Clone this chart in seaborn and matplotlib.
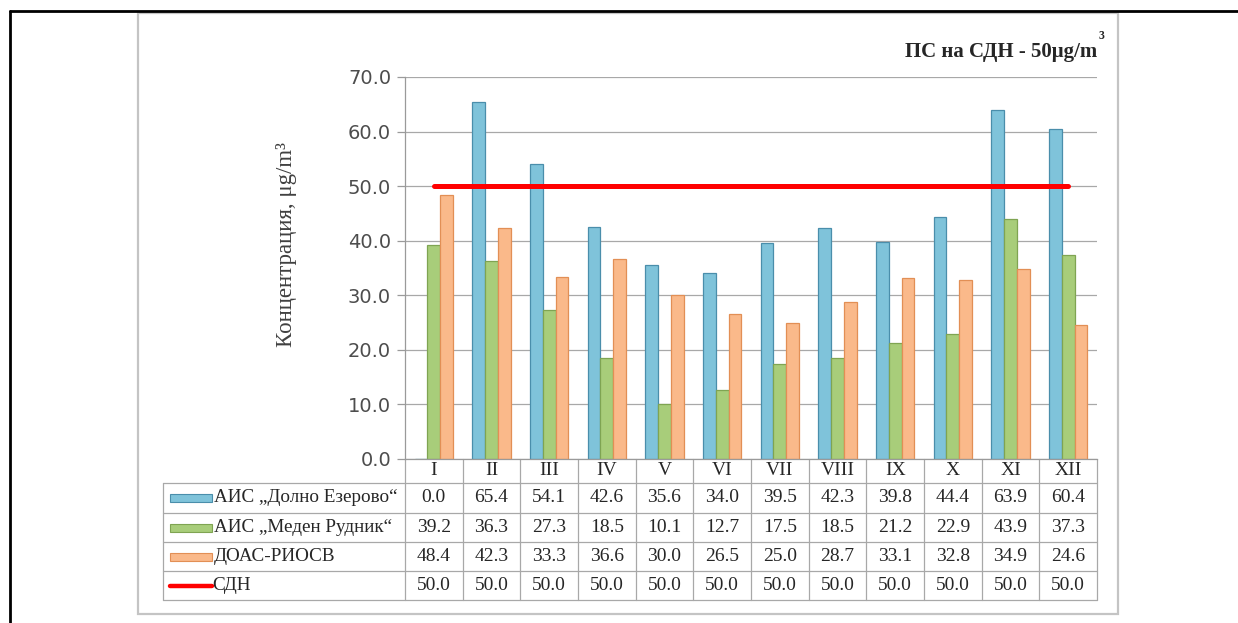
import numpy as np
import pandas as pd
import matplotlib
matplotlib.use("Agg")
import matplotlib.pyplot as plt
import matplotlib.transforms as mtransforms
from matplotlib.patches import Rectangle
import seaborn as sns

# ---- data ----
months = ['I', 'II', 'III', 'IV', 'V', 'VI', 'VII', 'VIII', 'IX', 'X', 'XI', 'XII']
dolno = [0.0, 65.4, 54.1, 42.6, 35.6, 34.0, 39.5, 42.3, 39.8, 44.4, 63.9, 60.4]
meden = [39.2, 36.3, 27.3, 18.5, 10.1, 12.7, 17.5, 18.5, 21.2, 22.9, 43.9, 37.3]
doas = [48.4, 42.3, 33.3, 36.6, 30.0, 26.5, 25.0, 28.7, 33.1, 32.8, 34.9, 24.6]
sdn = [50.0, 50.0, 50.0, 50.0, 50.0, 50.0, 50.0, 50.0, 50.0, 50.0, 50.0, 50.0]
series_names = ['АИС „Долно Езерово“', 'АИС „Меден Рудник“', 'ДОАС-РИОСВ', 'СДН']
yticks = [0, 10, 20, 30, 40, 50, 60, 70]

face_colors = ['#7fc3da', '#a8cd7a', '#fab98a']
edge_colors = ['#4a8eab', '#7fa452', '#e28f55']
red = '#ff0000'

sns.set_style("white")
SERIF = ['Liberation Serif', 'DejaVu Serif']
plt.rcParams['font.family'] = SERIF

W, H = 1238, 623
fig = plt.figure(figsize=(W / 100, H / 100), dpi=100)
pix = mtransforms.Affine2D().scale(1 / W, -1 / H).translate(0, 1) + fig.transFigure

# axes in pixel layout
L, R, T, B = 405, 1097, 77, 459
ax = fig.add_axes([L / W, 1 - B / H, (R - L) / W, (B - T) / H])

df = pd.DataFrame({
    'month': months * 3,
    'value': dolno + meden + doas,
    'series': [series_names[0]] * 12 + [series_names[1]] * 12 + [series_names[2]] * 12,
})
sns.barplot(data=df, x='month', y='value', hue='series', order=months,
            hue_order=series_names[:3], palette=face_colors, width=0.66,
            gap=0, saturation=1, legend=False, ax=ax, zorder=2)
for cont, ec in zip(ax.containers, edge_colors):
    for p in cont:
        p.set_edgecolor(ec)
        p.set_linewidth(0.9)

ax.plot(np.arange(len(months)), sdn, color=red, lw=3.6, zorder=5,
        solid_capstyle='round')

ax.set_xlim(-0.5, len(months) - 0.5)
ax.set_ylim(0, 70)
ax.set_yticks(yticks)
ax.set_yticklabels([f"{v:.1f}" for v in yticks], family='DejaVu Sans',
                   fontsize=14, color='#4d4d4d')
ax.tick_params(axis='y', length=6, color='#9a9a9a', width=0.9, pad=4, left=True)
ax.set_xticks(np.arange(len(months)))
ax.set_xticklabels(months, family=SERIF, fontsize=14, color='#262626')
ax.tick_params(axis='x', length=0, pad=2)
ax.grid(axis='y', color='#a8a8a8', lw=0.9, zorder=0)
ax.set_axisbelow(True)
for s in ['top', 'right']:
    ax.spines[s].set_visible(False)
for s in ['left', 'bottom']:
    ax.spines[s].set_color('#9a9a9a')
    ax.spines[s].set_linewidth(0.9)
ax.set_xlabel('')
ax.set_ylabel('Концентрация, μg/m³', fontsize=16.5, color='#404040', family=SERIF)
ax.yaxis.set_label_coords((297 - L) / (R - L), (B - 245) / (B - T))

# ---- data table below axes ----
gcol = '#a8a8a8'
bt = mtransforms.blended_transform_factory(ax.transData, pix)
row_y = [483, 513, 542, 571, 600]
tbl_left = 163
n = len(months)
for k in range(n + 1):
    ax.plot([k - 0.5, k - 0.5], [B, row_y[-1]], transform=bt, color=gcol,
            lw=0.9, clip_on=False)
for yy in row_y:
    fig.add_artist(plt.Line2D([tbl_left, R], [yy, yy], transform=pix,
                              color=gcol, lw=0.9))
fig.add_artist(plt.Line2D([tbl_left, tbl_left], [row_y[0], row_y[-1]],
                          transform=pix, color=gcol, lw=0.9))

rows = [dolno, meden, doas, sdn]
for r, vals in enumerate(rows):
    yc = (row_y[r] + row_y[r + 1]) / 2
    for k, v in enumerate(vals):
        ax.text(k, yc, f"{v:.1f}", transform=bt, ha='center', va='center',
                fontsize=14, color='#262626', family=SERIF)
    if r < 3:
        fig.add_artist(Rectangle((170, yc - 4), 42, 8, transform=pix,
                                 facecolor=face_colors[r],
                                 edgecolor=edge_colors[r], lw=0.8))
        tx = 214
    else:
        fig.add_artist(plt.Line2D([170, 212], [yc, yc], transform=pix,
                                  color=red, lw=3.2, solid_capstyle='round'))
        tx = 212
    fig.text(tx / W, 1 - yc / H, series_names[r], ha='left', va='center',
             fontsize=13.8, color='#262626', family=SERIF)

# ---- title ----
fig.text(R / W, 1 - 57 / H, 'ПС на СДН - 50μg/m', ha='right', va='baseline',
         fontsize=15, fontweight='bold', color='#262626', family=SERIF)
fig.text(1099 / W, 1 - 39 / H, '3', ha='left', va='baseline',
         fontsize=8.5, fontweight='bold', color='#262626', family=SERIF)

# ---- frames ----
fig.add_artist(Rectangle((138, 13), 1118 - 138, 614 - 13, transform=pix,
                         fill=False, edgecolor='#c4c4c4', lw=1.6))
fig.add_artist(plt.Line2D([10, W], [11, 11], transform=pix, color='black', lw=2))
fig.add_artist(plt.Line2D([10, 10], [11, H], transform=pix, color='black', lw=2))

fig.savefig('out.png', dpi=100)
